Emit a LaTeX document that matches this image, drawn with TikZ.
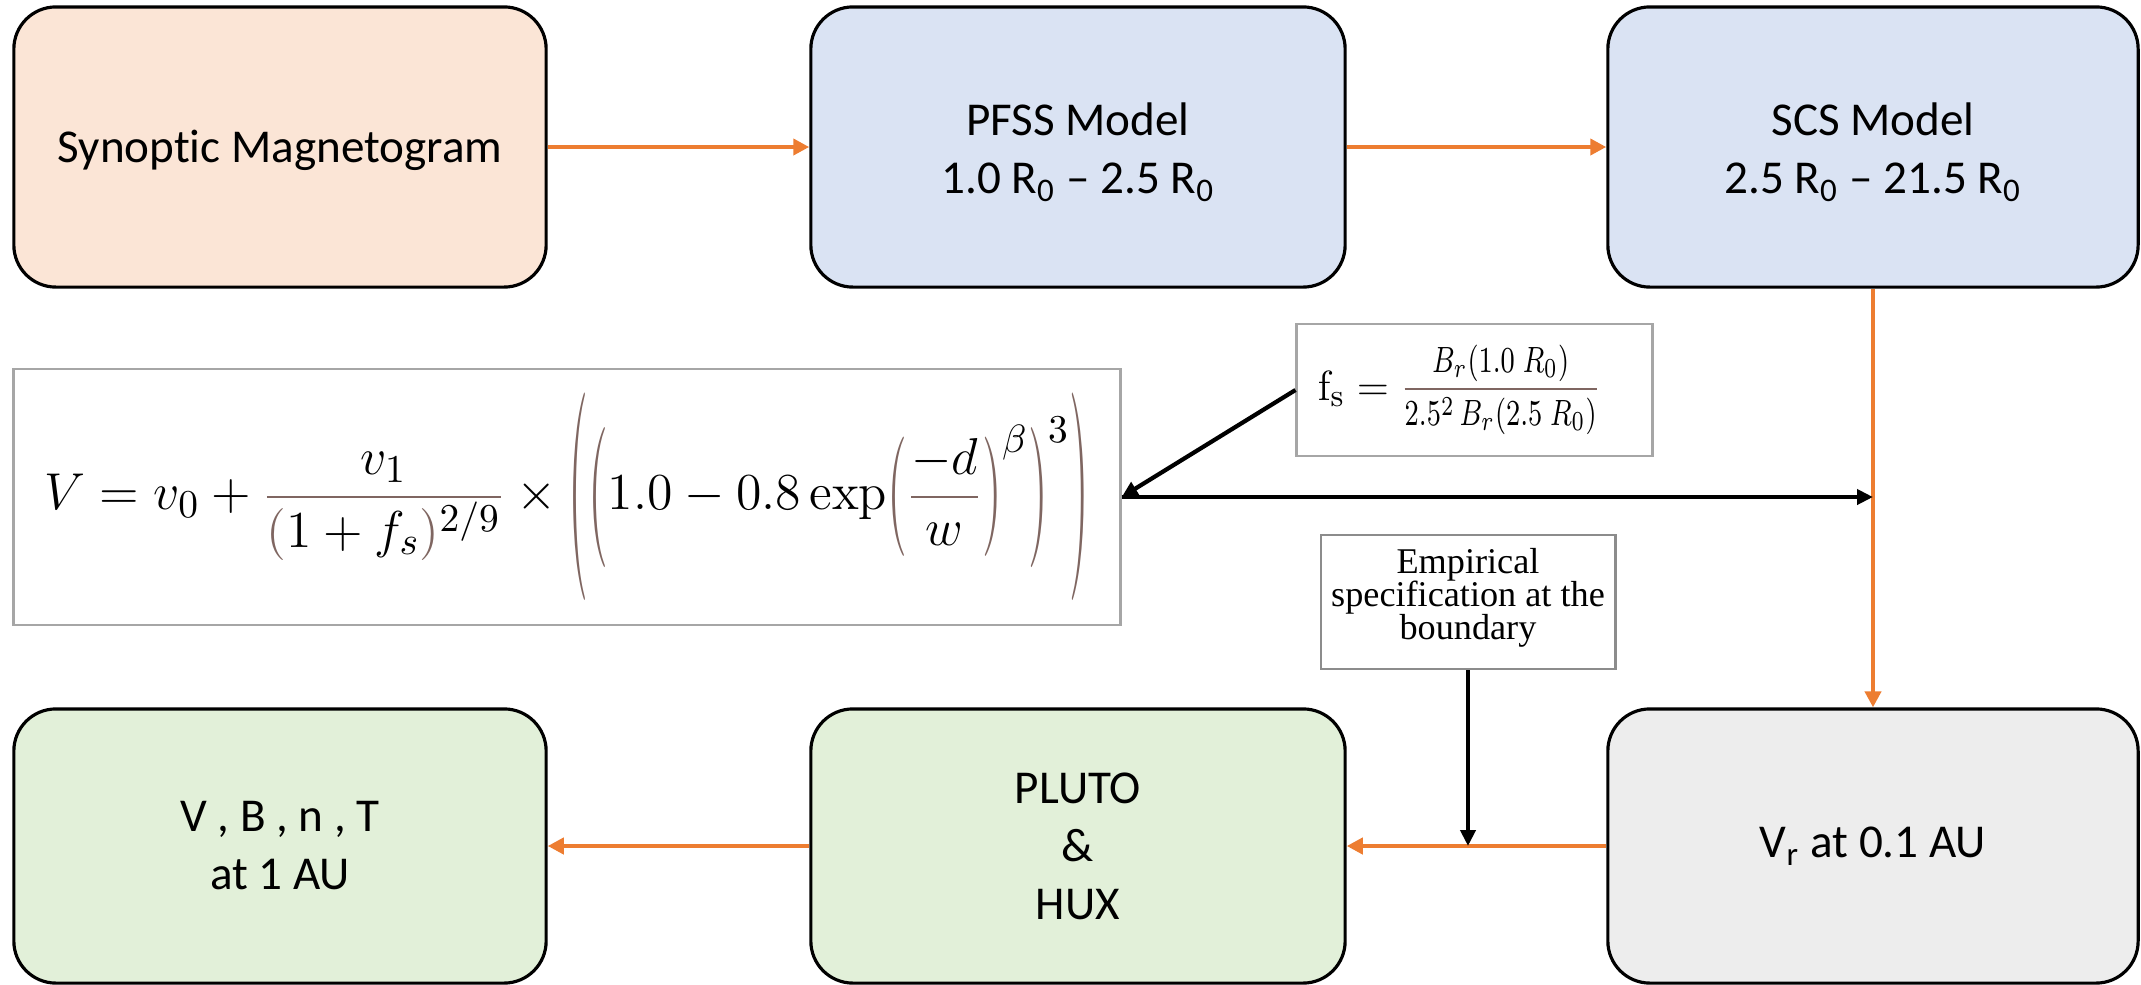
\documentclass[tikz,border=0pt]{standalone}
\usepackage[no-math]{fontspec}
\setmainfont{Carlito}[Ligatures=CommonOff]
\newfontfamily\timesf{Liberation Serif}
\usepackage{graphicx}
\usetikzlibrary{arrows.meta}
\definecolor{peach}{HTML}{FBE5D6}
\definecolor{lblue}{HTML}{DAE3F3}
\definecolor{lgreen}{HTML}{E2F0D9}
\definecolor{lgray}{HTML}{EDEDED}
\definecolor{orangeC}{HTML}{ED7D31}
\definecolor{brn}{RGB}{127,102,97}
\definecolor{frameg}{HTML}{A6A6A6}
\definecolor{frameh}{HTML}{8C8C8C}
\newcommand\plp[1]{\mathopen{\vcenter{\hbox{\color{brn}\scalebox{1}[#1]{$($}}}}}
\newcommand\prp[1]{\mathclose{\vcenter{\hbox{\color{brn}\scalebox{1}[#1]{$)$}}}}}
\newcommand\empfont{\timesf\fontsize{10.3}{9.4}\selectfont\lineskiplimit=-6pt\relax}
\newcommand\twoline[2]{\raisebox{-0.06cm}[\height][\depth]{\begin{tabular}{@{}c@{}}#1\\#2\end{tabular}}}
\begin{document}
\begin{tikzpicture}[x=0.01cm,y=-0.01cm,
  rbox/.style={draw=black, line width=0.9pt, rounded corners=0.42cm,
    minimum width=5.32cm, minimum height=2.78cm, inner sep=0pt, align=center,
    font=\fontsize{13.4}{16.5}\selectfont},
  oarr/.style={draw=orangeC, line width=1.2pt, -{Triangle[length=0.16cm,width=0.16cm]}},
  barr/.style={draw=black, line width=1.2pt, -{Triangle[length=0.16cm,width=0.15cm]}},
  eqbox/.style={draw=frameg, line width=0.8pt, inner sep=0pt}
]
\useasboundingbox (0,0) rectangle (2141,984);
% top row
\node[rbox, fill=peach, minimum height=2.80cm] (syn) at (280,147) {\raisebox{-0.03cm}[\height][\depth]{Synoptic Magnetogram}};
\node[rbox, fill=lblue, minimum width=5.34cm, minimum height=2.80cm] (pfss) at (1078,147) {\twoline{PFSS Model}{1.0 R\textsubscript{0} – 2.5 R\textsubscript{0}}};
\node[rbox, fill=lblue, minimum width=5.30cm, minimum height=2.80cm] (scs) at (1873,147) {\twoline{SCS Model}{2.5 R\textsubscript{0} – 21.5 R\textsubscript{0}}};
% bottom row
\node[rbox, fill=lgreen, minimum height=2.74cm] (vout) at (280,846) {V , B , n , T\\at 1 AU};
\node[rbox, fill=lgreen, minimum width=5.34cm, minimum height=2.74cm] (pluto) at (1078,846) {PLUTO\\\&\\HUX};
\node[rbox, fill=lgray, minimum width=5.30cm, minimum height=2.74cm] (vr) at (1873,846) {V\textsubscript{r} at 0.1 AU};
% formula box
\node[eqbox, minimum width=11.06cm, minimum height=2.56cm] (formula) at (567,497)
 {\resizebox{10.44cm}{!}{\fontsize{15}{18}\selectfont$\displaystyle V = v_0 + {\color{brn}\frac{\color{black}v_1}{\color{black}\textcolor{brn}{(}1+f_s\textcolor{brn}{)}^{2/9}}}\times\plp{4.0}\plp{2.7}1.0-0.8\exp\plp{2.3}{\color{brn}\frac{\color{black}-d}{\color{black}w}}\prp{2.3}^{\beta}\prp{2.7}^{3}\prp{4.0}$}};
% fs box
\node[eqbox, minimum width=3.55cm, minimum height=1.32cm, text width=3.13cm, inner xsep=0.21cm, align=left] (fs) at (1474.5,390)
 {\fontsize{13}{15}\selectfont$\mathrm{f}_{\mathrm{s}} = \vcenter{\hbox{\scalebox{0.95}[1.3]{\fontsize{8.2}{10}\selectfont$\displaystyle{\color{brn}\frac{\color{black}B_r(1.0\;R_0)}{\color{black}2.5^2\,B_r(2.5\;R_0)}}$}}}$};
% empirical box
\node[draw=frameh, line width=0.8pt, minimum width=2.94cm, minimum height=1.34cm, inner sep=0pt, align=center,
  font=\empfont, text depth=4.8pt] (emp) at (1468,602)
 {Empirical\\specification at the\\boundary};
% orange connectors
\draw[oarr] (syn.east) -- (pfss.west);
\draw[oarr] (pfss.east) -- (scs.west);
\draw[oarr] (scs.south) -- (vr.north);
\draw[oarr] (vr.west) -- (pluto.east);
\draw[oarr] (pluto.west) -- (vout.east);
% black connectors
\coordinate (k) at (formula.east -| scs.south);
\coordinate (j) at (emp.south |- vr.west);
\draw[barr] (fs.west) -- (formula.east);
\draw[barr] (formula.east) -- (k);
\draw[barr] (emp.south) -- (j);
\end{tikzpicture}
\end{document}
